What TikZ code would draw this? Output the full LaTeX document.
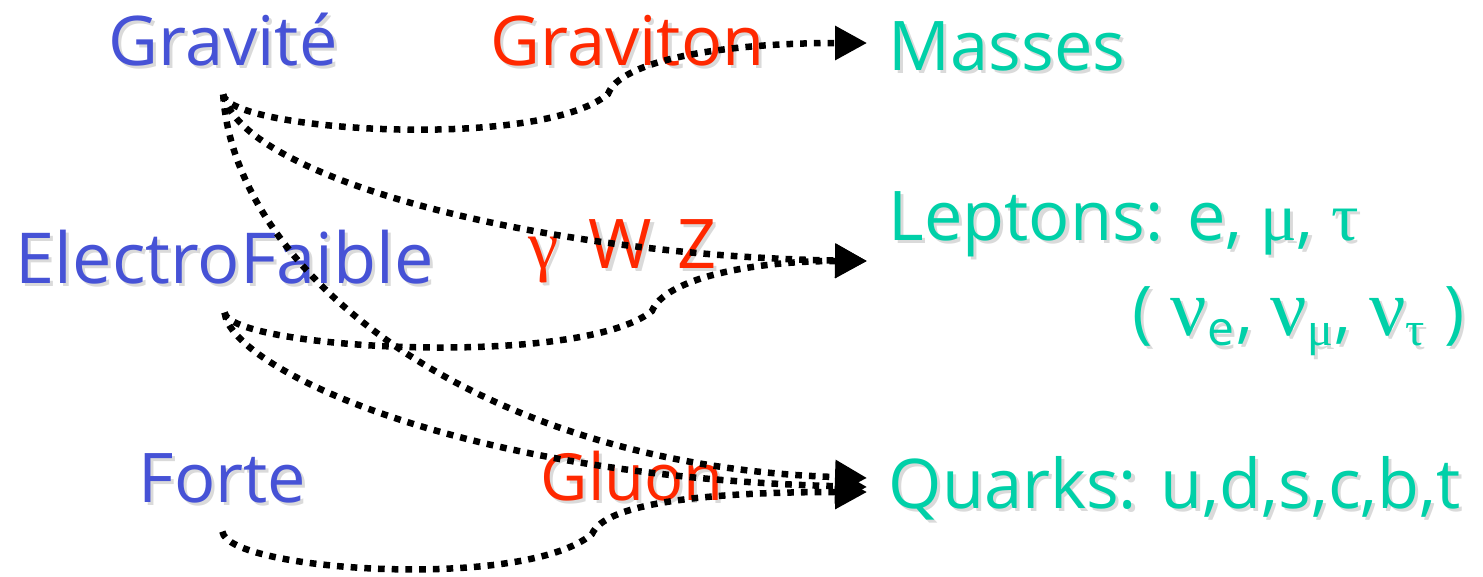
\documentclass[tikz,border=0pt]{standalone}
\usepackage{fontspec}
\setmainfont{Open Sans}
\newfontfamily\grk{Liberation Serif}
\usepackage{tikz}
\usetikzlibrary{arrows.meta}

\definecolor{bleu}{RGB}{70,82,214}
\definecolor{rouge}{RGB}{255,40,0}
\definecolor{vert}{RGB}{0,208,168}
\definecolor{ombre}{RGB}{218,218,218}

% texte avec ombre portee
\newcommand\ombre[1]{\makebox[0pt][l]{\kern0.9pt\raisebox{-0.9pt}{\color{ombre}#1}}#1}
\newcommand\nugrec{{\grk\fontsize{23}{23}\selectfont ν}}

\begin{document}
\begin{tikzpicture}[
    font=\fontsize{19.5}{23}\selectfont,
    interaction/.style ={text=bleu, anchor=base west, inner xsep=0pt, inner ysep=0.25cm},
    mediateur/.style   ={text=rouge, anchor=base west, inner sep=0pt},
    particule/.style   ={text=vert, anchor=base west, inner sep=0pt},
    fl/.style          ={-{Triangle[length=0.32cm,width=0.33cm]}, line width=1.85pt,
                         dash pattern=on 1.9pt off 2.0pt}
  ]
  \useasboundingbox (0,0) rectangle (14.83,5.76);

  % --- interactions --------------------------------------------------------
  \node[interaction] (i1) at (1.08,5.11) {\ombre{Gravité}};
  \node[interaction] (i2) at (0.15,2.93) {\ombre{\fontsize{20}{23}\selectfont ElectroFaible}};
  \node[interaction] (i3) at (1.38,0.74) {\ombre{Forte}};

  % --- mediateurs ----------------------------------------------------------
  \node[mediateur] (m1) at (4.90,5.11) {\ombre{Graviton}};
  \node[mediateur] (m2) at (5.28,3.08)
    {\ombre{{\grk γ}\hspace{0.3cm}W\hspace{0.25cm}Z}};
  \node[mediateur] (m3) at (5.40,0.76) {\ombre{\fontsize{18.5}{23}\selectfont Gluon}};

  % --- particules ----------------------------------------------------------
  \node[particule] (p1) at (8.88,5.06) {\ombre{Masses}};
  \node[particule] (p2) at (8.88,3.36) {\ombre{Leptons: e, {\grk μ}, {\grk τ}}};
  \node[particule] (p2b) at (11.32,2.41)
    {\ombre{( \nugrec\textsubscript{e}, \nugrec\textsubscript{\grk μ}, \nugrec\textsubscript{\grk τ} )}};
  \node[particule] (p3) at (8.88,0.68) {\ombre{Quarks: u,d,s,c,b,t}};

  \coordinate (t1) at (8.67,5.33);
  \coordinate (t2) at (8.67,3.15);
  \coordinate (t3a) at (8.67,0.98);
  \coordinate (t3b) at (8.67,0.89);
  \coordinate (t3c) at (8.67,0.84);

  % --- couplages -----------------------------------------------------------
  \draw[fl] (i1.south) .. controls (2.28,4.45) and (5.40,4.25) .. (6.08,4.82)
                       .. controls (6.20,5.15) and (7.20,5.33) .. (t1);
  \draw[fl] (i1.south) .. controls (2.45,3.95) and (5.50,3.20) .. (t2);
  \draw[fl] (i1.south) .. controls (2.35,3.00) and (4.80,1.10) .. (t3a);

  \draw[fl] (i2.south) .. controls (2.30,2.27) and (5.80,2.07) .. (6.52,2.65)
                       .. controls (6.65,2.97) and (7.50,3.15) .. (t2);
  \draw[fl] (i2.south) .. controls (2.30,2.10) and (4.50,1.00) .. (t3b);

  \draw[fl] (i3.south) .. controls (2.27,0.05) and (5.25,-0.15) .. (5.92,0.42)
                       .. controls (6.05,0.72) and (7.00,0.84) .. (t3c);

\end{tikzpicture}
\end{document}
